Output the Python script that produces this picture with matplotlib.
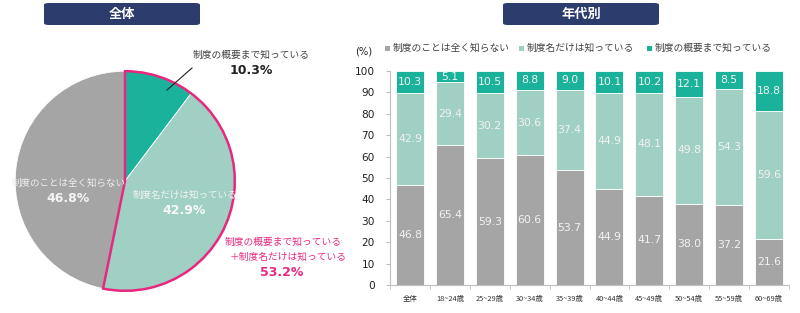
import matplotlib
matplotlib.use("Agg")
import matplotlib.pyplot as plt
from matplotlib.patches import Wedge, FancyBboxPatch, Rectangle
import numpy as np

plt.rcParams['font.family'] = ['Noto Sans CJK JP', 'DejaVu Sans']

# ---- data ----
pie_labels = ["制度の概要まで知っている", "制度名だけは知っている", "制度のことは全く知らない"]
pie_values = [10.3, 42.9, 46.8]
combined_label = ["制度の概要まで知っている", "＋制度名だけは知っている"]
combined_value = 53.2

categories = ["全体", "18~24歳", "25~29歳", "30~34歳", "35~39歳", "40~44歳",
              "45~49歳", "50~54歳", "55~59歳", "60~69歳"]
series_names = ["制度のことは全く知らない", "制度名だけは知っている", "制度の概要まで知っている"]
not_know = [46.8, 65.4, 59.3, 60.6, 53.7, 44.9, 41.7, 38.0, 37.2, 21.6]
name_only = [42.9, 29.4, 30.2, 30.6, 37.4, 44.9, 48.1, 49.8, 54.3, 59.6]
overview = [10.3, 5.1, 10.5, 8.8, 9.0, 10.1, 10.2, 12.1, 8.5, 18.8]
yticks = [0, 10, 20, 30, 40, 50, 60, 70, 80, 90, 100]

GRAY = "#a5a5a5"
LIGHT = "#a0cfc3"
TEAL = "#1ab29b"
PINK = "#e8287f"
NAVY = "#2c3c6c"
W, H = 800, 313

fig = plt.figure(figsize=(8, 3.13), dpi=100)

def fx(px):
    return px / W

def fy(py):
    return 1 - py / H

# ---- title boxes ----
for (x0, x1, title) in [(44, 200, "全体"), (503, 659, "年代別")]:
    box = FancyBboxPatch((fx(x0), fy(25)), fx(x1 - x0), (22) / H,
                         boxstyle="round,pad=0,rounding_size=0.006",
                         transform=fig.transFigure, facecolor=NAVY, edgecolor="none")
    fig.patches.append(box)
    fig.text(fx((x0 + x1) / 2), fy(14), title, color="white", fontsize=9.5,
             fontweight="bold", ha="center", va="center")

# ---- pie ----
cx, cy, r = 125, 181, 112
axp = fig.add_axes([fx(cx - r), fy(cy + r), fx(2 * r), 2 * r / H])
axp.pie(pie_values, colors=[TEAL, LIGHT, GRAY], startangle=90, counterclock=False,
        radius=1, wedgeprops=dict(edgecolor="white", linewidth=0.6))
end_angle = 90 - combined_value / 100 * 360
axp.add_patch(Wedge((0, 0), 1, end_angle, 90, facecolor="none", edgecolor=PINK,
                    linewidth=1.8, zorder=5))
axp.set_xlim(-1.02, 1.02)
axp.set_ylim(-1.02, 1.02)
axp.set_aspect("equal")
axp.axis("off")

# pie labels
fig.text(fx(251), fy(55), pie_labels[0], fontsize=7, color="#404040", ha="center", va="center")
fig.text(fx(251), fy(70), f"{pie_values[0]}%", fontsize=9, color="#222222", fontweight="bold",
         ha="center", va="center", family=["DejaVu Sans"])
fig.add_artist(plt.Line2D([fx(167), fx(192)], [fy(90), fy(68)], color="#222222", linewidth=0.8))
fig.text(fx(69), fy(183), pie_labels[2], fontsize=6.8, color="#eeeeee", ha="center", va="center")
fig.text(fx(68), fy(199), f"{pie_values[2]}%", fontsize=9, color="#f4f4f4", fontweight="bold",
         ha="center", va="center", family=["DejaVu Sans"])
fig.text(fx(185), fy(195), pie_labels[1], fontsize=6.8, color="#f4f4f4", ha="center", va="center")
fig.text(fx(184), fy(211), f"{pie_values[1]}%", fontsize=9, color="#f8f8f8", fontweight="bold",
         ha="center", va="center", family=["DejaVu Sans"])
fig.text(fx(283), fy(242), combined_label[0], fontsize=7, color=PINK, ha="center", va="center")
fig.text(fx(288), fy(257), combined_label[1], fontsize=7, color=PINK, ha="center", va="center")
fig.text(fx(282), fy(272), f"{combined_value}%", fontsize=9, color=PINK, fontweight="bold",
         ha="center", va="center", family=["DejaVu Sans"])

# ---- bar chart ----
left_px, right_px, top_px, bot_px = 390, 789, 71, 285
axb = fig.add_axes([fx(left_px), fy(bot_px), fx(right_px - left_px), (bot_px - top_px) / H])
x = np.arange(len(categories))
bw = 0.7
b0 = axb.bar(x, not_know, bw, color=GRAY, edgecolor="white", linewidth=0.6, label=series_names[0])
b1 = axb.bar(x, name_only, bw, bottom=not_know, color=LIGHT, edgecolor="white", linewidth=0.6,
             label=series_names[1])
bottom2 = [a + b for a, b in zip(not_know, name_only)]
b2 = axb.bar(x, overview, bw, bottom=bottom2, color=TEAL, edgecolor="white", linewidth=0.6,
             label=series_names[2])
for bars, vals, bots in [(b0, not_know, [0] * len(x)), (b1, name_only, not_know),
                         (b2, overview, bottom2)]:
    for xi, v, bt in zip(x, vals, bots):
        axb.text(xi, bt + v / 2, f"{v:.1f}", ha="center", va="center", fontsize=7.8,
                 color="#f2f2f2", family=["DejaVu Sans"])

axb.set_xlim(-0.5, len(categories) - 0.5)
axb.set_ylim(0, 100)
axb.set_yticks(yticks)
axb.set_yticklabels([str(t) for t in yticks], fontsize=7.6, color="#222222",
                    family=["DejaVu Sans"])
axb.set_xticks(x)
axb.set_xticklabels(categories, fontsize=5.3, color="#333333")
axb.tick_params(axis="x", which="major", length=0, pad=7)
axb.set_xticks(np.arange(-0.5, len(categories)), minor=True)
axb.tick_params(axis="x", which="minor", length=3, color="#bfbfbf", direction="out")
axb.tick_params(axis="y", length=3, color="#bfbfbf", direction="out", pad=8)
for s in ["top", "right"]:
    axb.spines[s].set_visible(False)
for s in ["left", "bottom"]:
    axb.spines[s].set_color("#bfbfbf")
    axb.spines[s].set_linewidth(0.8)

fig.text(fx(364), fy(52), "(%)", fontsize=7.2, color="#222222", ha="center", va="center",
         family=["DejaVu Sans"])

# legend (square markers + labels)
legend_sq_x = [385, 519, 647]
for sx, name, col in zip(legend_sq_x, series_names, [GRAY, LIGHT, TEAL]):
    fig.patches.append(Rectangle((fx(sx), fy(51)), fx(5), 5 / H, transform=fig.transFigure,
                                 facecolor=col, edgecolor="none"))
    fig.text(fx(sx + 8), fy(48), name, fontsize=7, color="#404040", ha="left", va="center")

fig.savefig("out.png", dpi=100)
